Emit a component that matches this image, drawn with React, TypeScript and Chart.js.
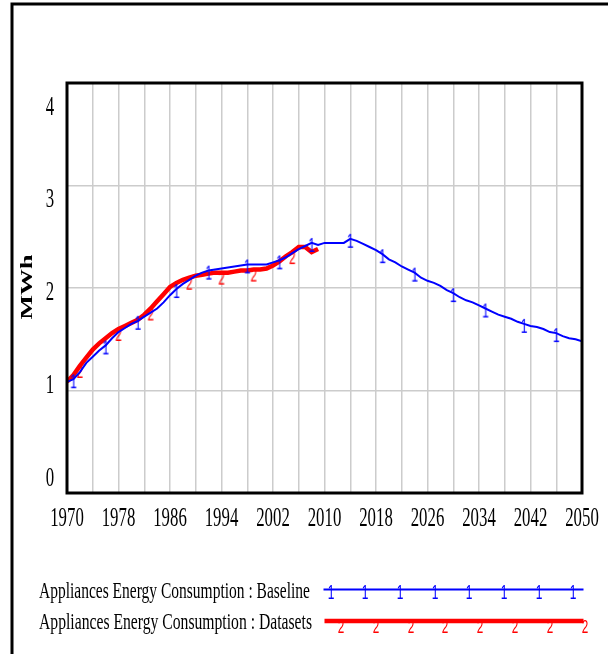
import React, { useEffect, useRef } from "react";
import { Chart, registerables } from "chart.js";

Chart.register(...registerables);

// ---------- data ----------
const baselineYears: number[] = [];
for (let y = 1970; y <= 2050; y++) baselineYears.push(y);

const baselineValues = [
  1.085, 1.11, 1.18, 1.27, 1.33, 1.39, 1.44, 1.51, 1.57, 1.61,
  1.65, 1.68, 1.72, 1.76, 1.8, 1.86, 1.93, 1.99, 2.04, 2.08,
  2.12, 2.15, 2.17, 2.18, 2.19, 2.2, 2.21, 2.22, 2.23, 2.23,
  2.23, 2.23, 2.25, 2.27, 2.3, 2.34, 2.38, 2.41, 2.44, 2.42,
  2.44, 2.44, 2.44, 2.44, 2.48, 2.46, 2.43, 2.4, 2.37, 2.33,
  2.28, 2.25, 2.21, 2.18, 2.15, 2.1, 2.07, 2.05, 2.02, 1.98,
  1.95, 1.91, 1.88, 1.86, 1.83, 1.8, 1.77, 1.74, 1.72, 1.7,
  1.67, 1.65, 1.63, 1.62, 1.6, 1.57, 1.56, 1.53, 1.51, 1.5,
  1.48,
];

const datasetYears: number[] = [];
for (let y = 1970; y <= 2009; y++) datasetYears.push(y);

const datasetValues = [
  1.085, 1.15, 1.24, 1.32, 1.4, 1.46, 1.51, 1.56, 1.6, 1.63,
  1.66, 1.69, 1.74, 1.8, 1.87, 1.94, 2.01, 2.05, 2.08, 2.1,
  2.12, 2.13, 2.14, 2.15, 2.15, 2.15, 2.16, 2.17, 2.17, 2.18,
  2.18, 2.19, 2.22, 2.26, 2.31, 2.35, 2.4, 2.4, 2.35, 2.38,
];

const baselineMarkerYears = [1971, 1976, 1981, 1987, 1992, 1998, 2003, 2008, 2014, 2019, 2024, 2030, 2035, 2041, 2046];
const datasetMarkerYears = [1972, 1978, 1983, 1989, 1994, 1999, 2005];

const xTickLabels = [1970, 1978, 1986, 1994, 2002, 2010, 2018, 2026, 2034, 2042, 2050];
const yTickLabels = [0, 1, 2, 3, 4];

const seriesNames = [
  "Appliances Energy Consumption : Baseline",
  "Appliances Energy Consumption : Datasets",
];
const yAxisTitle = "MWh";

const BLUE = "#0000ff";
const RED = "#ff0000";
const SERIF = '"Liberation Serif", "Times New Roman", serif';
const SANS = '"Liberation Sans", Arial, sans-serif';

function makeMarker(ch: string, color: string, topOffset: number, size: number, sx: number): HTMLCanvasElement {
  const c = document.createElement("canvas");
  c.width = 14;
  c.height = 44;
  const g = c.getContext("2d")!;
  g.fillStyle = color;
  g.font = `${size}px ${SANS}`;
  g.textAlign = "center";
  g.textBaseline = "alphabetic";
  g.save();
  g.translate(7, 22 + topOffset + size * 0.716);
  g.scale(sx, 1);
  g.fillText(ch, 0, 0);
  g.restore();
  return c;
}

function drawText(
  ctx: CanvasRenderingContext2D,
  text: string,
  x: number,
  y: number,
  font: string,
  sx: number,
  align: CanvasTextAlign
) {
  ctx.save();
  ctx.font = font;
  ctx.fillStyle = "#000";
  ctx.textAlign = align;
  ctx.textBaseline = "alphabetic";
  ctx.translate(x, y);
  ctx.scale(sx, 1);
  ctx.fillText(text, 0, 0);
  ctx.restore();
}

function drawFitText(
  ctx: CanvasRenderingContext2D,
  text: string,
  x: number,
  y: number,
  font: string,
  width: number
) {
  ctx.save();
  ctx.font = font;
  const w = ctx.measureText(text).width;
  ctx.restore();
  drawText(ctx, text, x, y, font, width / w, "left");
}

export default function App() {
  const ref = useRef<HTMLCanvasElement | null>(null);

  useEffect(() => {
    document.body.style.margin = "0";
    const canvas = ref.current!;
    const blueMarker = makeMarker("1", BLUE, -5, 20, 0.6);
    const redMarker = makeMarker("2", RED, -1, 18, 0.65);

    const decor = {
      id: "decor",
      afterDraw(chart: any) {
        const ctx: CanvasRenderingContext2D = chart.ctx;
        const { left, right, top, bottom } = chart.chartArea;
        const xs = chart.scales.x;
        const ys = chart.scales.y;

        // plot frame
        ctx.save();
        ctx.strokeStyle = "#000";
        ctx.lineWidth = 3;
        ctx.strokeRect(left, top, right - left, bottom - top);
        // outer frame (top + left)
        ctx.beginPath();
        ctx.moveTo(12, 654);
        ctx.lineTo(12, 4);
        ctx.lineTo(608, 4);
        ctx.stroke();
        ctx.restore();

        // x tick labels
        xTickLabels.forEach((yr) => {
          drawText(ctx, String(yr), xs.getPixelForValue(yr), 526, `28px ${SERIF}`, 0.6, "center");
        });
        // y tick labels (evenly spread as in the reference)
        yTickLabels.forEach((v) => {
          const py = ys.getPixelForValue(0.16 + 0.905 * v);
          drawText(ctx, String(v), 50, py + 9, `28px ${SERIF}`, 0.6, "center");
        });
        // y title
        ctx.save();
        ctx.font = `bold 26px ${SERIF}`;
        ctx.fillStyle = "#000";
        ctx.textAlign = "center";
        ctx.textBaseline = "middle";
        ctx.translate(28, 287);
        ctx.scale(0.65, 1);
        ctx.rotate(-Math.PI / 2);
        ctx.fillText(yAxisTitle, 0, 0);
        ctx.restore();

        // legend
        drawFitText(ctx, seriesNames[0], 39, 598, `23px ${SERIF}`, 271);
        drawFitText(ctx, seriesNames[1], 39, 629, `23px ${SERIF}`, 273);

        ctx.save();
        ctx.strokeStyle = BLUE;
        ctx.lineWidth = 2;
        ctx.beginPath();
        ctx.moveTo(323.5, 589.5);
        ctx.lineTo(583.5, 589.5);
        ctx.stroke();
        for (let i = 0; i < 8; i++) {
          const mx = 330.5 + i * 34.7;
          ctx.drawImage(blueMarker, Math.round(mx - 7), Math.round(589.5 - 22));
        }
        ctx.strokeStyle = RED;
        ctx.lineWidth = 4.5;
        ctx.beginPath();
        ctx.moveTo(324.5, 621);
        ctx.lineTo(583.5, 621);
        ctx.stroke();
        for (let i = 0; i < 8; i++) {
          const mx = 341 + i * 34.8;
          ctx.drawImage(redMarker, Math.round(mx - 7), Math.round(621 - 22));
        }
        ctx.restore();
      },
    };

    const chart = new Chart(canvas, {
      type: "line",
      data: {
        datasets: [
          {
            label: seriesNames[0],
            data: baselineYears.map((x, i) => ({ x, y: baselineValues[i] })),
            borderColor: BLUE,
            borderWidth: 2,
            tension: 0,
            pointStyle: blueMarker as any,
            pointRadius: (c: any) => (baselineMarkerYears.includes(c.raw?.x) ? 5 : 0),
          },
          {
            label: seriesNames[1],
            data: datasetYears.map((x, i) => ({ x, y: datasetValues[i] })),
            borderColor: RED,
            borderWidth: 4.5,
            tension: 0,
            pointStyle: redMarker as any,
            pointRadius: (c: any) => (datasetMarkerYears.includes(c.raw?.x) ? 5 : 0),
          },
        ],
      },
      options: {
        animation: false,
        responsive: false,
        events: [],
        layout: { padding: { left: 67, right: 26, top: 83, bottom: 161 } },
        plugins: { legend: { display: false }, tooltip: { enabled: false } },
        scales: {
          x: {
            type: "linear",
            min: 1970,
            max: 2050,
            ticks: { display: false, stepSize: 4 },
            grid: { color: "#cccccc", lineWidth: 1.5, drawTicks: false },
            border: { display: false },
          },
          y: {
            type: "linear",
            min: 0,
            max: 4,
            ticks: { display: false, stepSize: 1 },
            grid: { color: "#cccccc", lineWidth: 1.5, drawTicks: false },
            border: { display: false },
          },
        },
      },
      plugins: [decor],
    });
    return () => chart.destroy();
  }, []);

  return (
    <div style={{ width: 608, height: 654, background: "#fff" }}>
      <canvas ref={ref} width={608} height={654} style={{ display: "block" }} />
    </div>
  );
}
